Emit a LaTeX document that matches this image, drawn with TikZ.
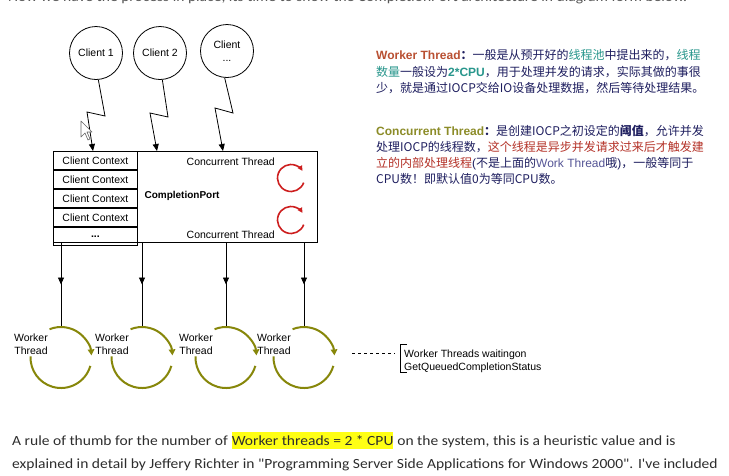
\documentclass[tikz,border=0pt]{standalone}
\usepackage{fontspec}
\setmainfont{Liberation Sans}
\newfontfamily\cjk{Noto Sans CJK SC}
\newfontfamily\bodyfont[FakeStretch=1.11]{Carlito}
\usetikzlibrary{arrows.meta,decorations.markings}
\definecolor{navy}{RGB}{30,30,95}
\definecolor{tealc}{RGB}{40,150,140}
\definecolor{wtred}{RGB}{185,80,50}
\definecolor{ctolive}{RGB}{140,140,40}
\definecolor{redb}{RGB}{180,50,40}
\definecolor{wkblue}{RGB}{85,85,150}
\definecolor{olivearc}{RGB}{135,135,10}
\definecolor{redarc}{RGB}{205,30,30}
\definecolor{bodygray}{RGB}{45,45,45}
\definecolor{hl}{RGB}{255,255,20}
\begin{document}
\begin{tikzpicture}[x=1pt,y=1pt,
  dg/.style={font=\fontsize{10.5}{13}\selectfont},
  client/.style={circle,draw,line width=0.8pt,minimum size=53pt,inner sep=0pt,dg,align=center},
  conn/.style={line width=0.8pt,-{Triangle[length=7pt,width=6pt]}},
  cell/.style={draw,line width=0.8pt,minimum width=84pt,minimum height=18.2pt,inner sep=0pt,dg,anchor=north west},
  midarrow/.style={line width=0.8pt,postaction={decorate},decoration={markings,mark=at position 0.5 with {\arrow{Triangle[length=7pt,width=6pt]}}}},
  warc/.style={line width=2pt,draw=olivearc},
  rarc/.style={line width=1.6pt,draw=redarc},
  cjkline/.style={anchor=base west,inner sep=0pt,text=navy,font=\fontsize{12}{16}\selectfont},
  bodyline/.style={anchor=base west,inner sep=0pt,text=bodygray,font=\bodyfont\fontsize{14}{16}\selectfont}]
\useasboundingbox (0,0) rectangle (729,-475);
\clip (0,0) rectangle (729,-475);
\fill[white] (0,0) rectangle (729,-475);

% top line (cut by the page edge as in the reference)
\node[bodyline,text=bodygray!80] (topline) at (8,-1) {Now we have the process in place, its time to show the CompletionPort architecture in diagram form below.};

% clients
\node[client] (c1) at (96,-53) {Client 1};
\node[client] (c2) at (160,-53) {Client 2};
\node[client] (c3) at (227,-51) {Client\\...};

% completion port box
\node[draw,line width=0.8pt,minimum width=264pt,minimum height=91pt,inner sep=0pt,anchor=north west] (port) at (53,-151) {};
\node[cell] (cc1) at (53,-151) {Client Context};
\node[cell] (cc2) at (cc1.south west) {Client Context};
\node[cell] (cc3) at (cc2.south west) {Client Context};
\node[cell] (cc4) at (cc3.south west) {Client Context};
\node[cell] (cc5) at (cc4.south west) {\bfseries ...};
\node[dg,anchor=west,font=\fontsize{10}{12}\selectfont\bfseries] (cpl) at (141,-196) {CompletionPort};
\node[dg,anchor=base east,inner sep=0pt] (ct1) at (275,-165) {Concurrent Thread};
\node[dg,anchor=base east,inner sep=0pt] (ct2) at (275,-238) {Concurrent Thread};

% red circular arrows
\coordinate (r1) at (291,-178);
\coordinate (r2) at (291,-220);
\draw[rarc,-{Triangle[length=5pt,width=5pt]}] ([shift={(-20:13.5)}]r1) arc[start angle=-20,end angle=-328,radius=13.5];
\draw[rarc,-{Triangle[length=5pt,width=5pt]}] ([shift={(-20:13.5)}]r2) arc[start angle=-20,end angle=-328,radius=13.5];

% client connectors
\coordinate (in1) at (93,-151);
\coordinate (in2) at (157,-151);
\coordinate (in3) at (223,-151);
\draw[conn] (c1.-85) -- (105,-116) -- (87,-112) -- (in1);
\draw[conn] (c2.-85) -- (168,-117) -- (150,-113) -- (in2);
\draw[conn] (c3.-95) -- (233,-113) -- (215,-108) -- (in3);

% mouse cursor
\draw[fill=white,draw=gray!80!black,line width=0.6pt,line join=round]
  (81,-121) -- (81,-137) -- (85,-133) -- (88,-140) -- (90,-139) -- (87,-132) -- (92,-132) -- cycle;

% worker threads
\foreach \i/\x in {1/61,2/142,3/226,4/304}{
  \coordinate (w\i) at (\x,-357.5);
  \coordinate (wt\i) at (\x,-327);
  \coordinate (wb\i) at (\x,-242);
  \draw[midarrow] (wb\i) -- (wt\i);
  \draw[warc,-{Triangle[length=6pt,width=6.5pt]}] ([shift={(112:30.5)}]w\i) arc[start angle=112,end angle=4,radius=30.5];
  \draw[warc] ([shift={(-16:30.5)}]w\i) arc[start angle=-16,end angle=-182,radius=30.5];
  \node[dg,align=center,inner sep=0pt] (wl\i) at (\x-30,-344.5) {Worker\\Thread};
}

% waiting note
\coordinate (d0) at (352,-353);
\coordinate (d1) at (395,-353);
\draw[dashed,line width=0.6pt] (d0) -- (d1);
\draw[line width=0.8pt] (407,-344) -- (400,-344) -- (400,-372) -- (407,-372);
\node[dg,anchor=base west,inner sep=0pt] (wn1) at (404,-357) {Worker Threads waitingon};
\node[dg,anchor=base west,inner sep=0pt] (wn2) at (404,-370.5) {GetQueuedCompletionStatus};

% right-hand notes
\node[cjkline] (a1) at (376,-59) {\textcolor{wtred}{\bfseries Worker Thread}{\cjk\bfseries ：}{\cjk 一般是从预开好的\textcolor{tealc}{线程池}中提出来的，\textcolor{tealc}{线程}}};
\node[cjkline] (a2) at (376,-76) {{\cjk\textcolor{tealc}{数量}一般设为}\textcolor{tealc}{\bfseries 2*CPU}{\cjk ，用于处理并发的请求，实际其做的事很}};
\node[cjkline] (a3) at (376,-92) {{\cjk 少，就是通过IOCP交给IO设备处理数据，然后等待处理结果。}};

\node[cjkline] (b1) at (376,-135) {\textcolor{ctolive}{\bfseries Concurrent Thread}{\cjk\bfseries ：}{\cjk 是创建IOCP之初设定的{\bfseries 阈值}，允许并发}};
\node[cjkline] (b2) at (376,-151) {{\cjk 处理IOCP的线程数，\textcolor{redb}{这个线程是异步并发请求过来后才触发建}}};
\node[cjkline] (b3) at (376,-167) {{\cjk\textcolor{redb}{立的内部处理线程}}({\cjk 不是上面的}\textcolor{wkblue}{Work Thread}{\cjk 哦}){\cjk ，一般等同于}};
\node[cjkline] (b4) at (376,-183) {{\cjk CPU数！即默认值0为等同CPU数。}};

% bottom paragraph
\node[bodyline] (p1) at (12,-445.5) {A rule of thumb for the number of\ \null};
\node[bodyline,fill=hl,inner ysep=3.5pt] (p1h) at (p1.base east) {Worker threads = 2 * CPU};
\node[bodyline] (p1r) at (p1h.base east) {\null\ on the system, this is a heuristic value and is};
\node[bodyline] (p2) at (12,-468.5) {explained in detail by Jeffery Richter in "Programming Server Side Applications for Windows 2000". I've included};
\end{tikzpicture}
\end{document}
